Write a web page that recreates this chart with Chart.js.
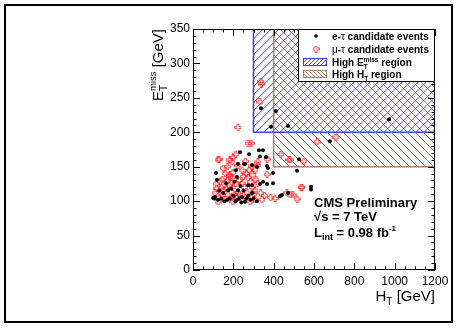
<!DOCTYPE html>
<html>
<head>
<meta charset="utf-8">
<script src="https://cdn.jsdelivr.net/npm/chart.js@4.4.1/dist/chart.umd.min.js"></script>
<style>
  body { margin: 0; background: #fff; }
  canvas { display: block; }
</style>
</head>
<body>
<canvas id="chart" width="457" height="329"></canvas>
<script>
// e-tau candidate events (HT, MET in GeV)
const eTauHT = [337, 411, 387, 471, 972, 679, 526, 516, 585, 585,
  347, 327, 233, 278, 332, 362, 223, 253, 372, 114, 119, 397, 347, 397, 293,
  213, 258, 293, 317, 164, 218, 273, 223, 174, 109, 124, 183, 218, 243, 293,
  317, 258, 367, 332, 367, 441, 471, 431,
  140, 155, 200, 230, 265, 275, 190, 150, 205, 235, 100, 105, 170, 250, 300, 285, 130, 210, 240];
const eTauMET = [235, 231, 208, 209, 219, 187, 161, 144, 121, 117,
  174, 174, 171, 168, 165, 164, 154, 154, 148, 141, 131, 141, 128, 126, 123,
  145, 154, 152, 150, 126, 135, 123, 116, 116, 106, 102, 104, 102, 106, 112,
  100, 99, 151, 125, 125, 109, 112, 107,
  104, 100, 108, 104, 104, 108, 118, 112, 128, 122, 105, 104, 102, 115, 104, 102, 115, 100, 98];

// mu-tau candidate events (HT, MET in GeV)
const muTauHT = [337, 340, 332, 615, 709, 481, 550, 436, 476, 540, 407, 466, 496, 516,
  223, 273, 288, 367, 129, 193, 198, 322, 292, 278, 243, 198, 183, 144, 367, 312,
  124, 183, 223, 307, 297, 183, 193, 273, 243, 134, 119, 149, 198, 293, 307,
  144, 174, 223, 268, 124, 159, 198, 243, 283, 307, 322, 322, 342, 481, 536,
  110, 115, 130, 165, 170, 210, 215, 230, 255, 260, 180, 205, 250, 140, 160,
  285, 300, 230, 190, 265, 150, 170, 335, 355, 385, 212, 260];
const muTauMET = [274, 270, 244, 186, 193, 160, 158, 168, 160, 120, 104, 112, 109, 103,
  207, 184, 184, 161, 161, 157, 163, 157, 151, 145, 145, 141, 135, 131, 139, 131,
  160, 160, 152, 145, 138, 138, 134, 134, 126, 128, 119, 116, 120, 120, 116,
  109, 109, 112, 112, 99, 102, 99, 102, 99, 102, 152, 126, 102, 109, 120,
  112, 125, 105, 118, 130, 125, 105, 130, 120, 105, 122, 110, 136, 120, 140,
  128, 110, 110, 105, 140, 148, 150, 112, 108, 105, 168, 158];

const xTicks = [0, 200, 400, 600, 800, 1000, 1200];
const yTicks = [0, 50, 100, 150, 200, 250, 300, 350];

// signal regions: lower-left corners (HT, MET)
const highMetRegion = [300, 200];
const highHtRegion = [400, 150];

const FONT = '"Liberation Sans", Arial, Helvetica, sans-serif';
const BLUE = '#4040ff';
const BROWN = '#a4826e';

function makeCross(color) {
  const c = document.createElement('canvas');
  c.width = 7; c.height = 7;
  const g = c.getContext('2d');
  g.strokeStyle = color;
  g.lineWidth = 1;
  g.beginPath();
  g.moveTo(2.5, 0.5); g.lineTo(4.5, 0.5); g.lineTo(4.5, 2.5); g.lineTo(6.5, 2.5);
  g.lineTo(6.5, 4.5); g.lineTo(4.5, 4.5); g.lineTo(4.5, 6.5); g.lineTo(2.5, 6.5);
  g.lineTo(2.5, 4.5); g.lineTo(0.5, 4.5); g.lineTo(0.5, 2.5); g.lineTo(2.5, 2.5);
  g.closePath();
  g.stroke();
  return c;
}
const crossImg = makeCross('rgba(255,30,30,0.8)');

function toPoints(xs, ys) {
  return xs.map((x, i) => ({ x: x, y: ys[i] }));
}

function hatch(ctx, x0, y0, x1, y1, dir, color, gap) {
  ctx.save();
  ctx.beginPath();
  ctx.rect(x0, y0, x1 - x0, y1 - y0);
  ctx.clip();
  ctx.strokeStyle = color;
  ctx.lineWidth = 1;
  ctx.beginPath();
  const h = y1 - y0;
  const start = Math.floor((x0 - h) / gap) * gap;
  for (let t = start; t < x1 + h; t += gap) {
    if (dir > 0) { ctx.moveTo(t, y1); ctx.lineTo(t + h, y0); }
    else { ctx.moveTo(t, y0); ctx.lineTo(t + h, y1); }
  }
  ctx.stroke();
  ctx.restore();
}

// draws text pieces: {t, size, bold, dy, stack}
function drawRich(ctx, parts, x, y) {
  let cx = x;
  let pending = 0;
  parts.forEach(p => {
    ctx.font = (p.bold ? 'bold ' : '') + p.size + 'px ' + FONT;
    const w = ctx.measureText(p.t).width;
    if (p.stack) {
      ctx.fillText(p.t, cx - pending, y + (p.dy || 0));
      const extra = w - pending;
      if (extra > 0) cx += extra;
      pending = 0;
    } else {
      ctx.fillText(p.t, cx, y + (p.dy || 0));
      cx += w;
      pending = p.dy ? w : 0;
    }
  });
  return cx - x;
}

const regionsPlugin = {
  id: 'regions',
  beforeDatasetsDraw(chart) {
    const { ctx, chartArea: a, scales: { x, y } } = chart;
    const bx = x.getPixelForValue(highMetRegion[0]);
    const by = y.getPixelForValue(highMetRegion[1]);
    const hx = x.getPixelForValue(highHtRegion[0]);
    const hy = y.getPixelForValue(highHtRegion[1]);
    hatch(ctx, hx, a.top, a.right, hy, -1, BROWN, 8);
    hatch(ctx, bx, a.top, a.right, by, 1, BLUE, 8);
    ctx.save();
    ctx.lineWidth = 1.5;
    ctx.strokeStyle = BROWN;
    ctx.beginPath();
    ctx.moveTo(hx, a.top); ctx.lineTo(hx, hy); ctx.lineTo(a.right, hy);
    ctx.stroke();
    ctx.strokeStyle = BLUE;
    ctx.beginPath();
    ctx.moveTo(bx, a.top); ctx.lineTo(bx, by); ctx.lineTo(a.right, by);
    ctx.stroke();
    ctx.restore();
  },
  afterDatasetsDraw(chart) {
    const { ctx, chartArea: a, scales: { x, y } } = chart;
    ctx.save();
    // frame and inward ticks
    ctx.strokeStyle = '#000';
    ctx.lineWidth = 1;
    ctx.strokeRect(a.left + 0.5, a.top + 0.5, a.right - a.left - 1, a.bottom - a.top - 1);
    ctx.beginPath();
    for (let v = 0; v <= 350; v += 10) {
      const p = Math.round(y.getPixelForValue(v)) + 0.5;
      const len = v % 50 === 0 ? 7 : 3.5;
      ctx.moveTo(a.left, p); ctx.lineTo(a.left + len, p);
      ctx.moveTo(a.right, p); ctx.lineTo(a.right - len, p);
    }
    for (let v = 0; v <= 1200; v += 50) {
      const p = Math.round(x.getPixelForValue(v)) + 0.5;
      const len = v % 200 === 0 ? 7 : 3.5;
      ctx.moveTo(p, a.bottom); ctx.lineTo(p, a.bottom - len);
      ctx.moveTo(p, a.top); ctx.lineTo(p, a.top + len);
    }
    ctx.stroke();

    // legend
    const lw = 137, lh = 53;
    const lx = a.right - lw, ly = a.top;
    ctx.fillStyle = '#fff';
    ctx.fillRect(lx, ly, lw, lh);
    ctx.strokeStyle = '#000';
    ctx.strokeRect(lx + 0.5, ly + 0.5, lw - 1, lh - 1);
    const rows = [ly + 7, ly + 20, ly + 33, ly + 45];
    const symX = lx + 18;
    const txtX = lx + 34;
    ctx.fillStyle = '#000';
    ctx.beginPath();
    ctx.arc(symX, rows[0], 1.8, 0, Math.PI * 2);
    ctx.fill();
    ctx.drawImage(crossImg, symX - 3.5, rows[1] - 3.5);
    hatch(ctx, lx + 5, rows[2] - 4, lx + 29, rows[2] + 4, 1, BLUE, 4);
    ctx.strokeStyle = BLUE;
    ctx.strokeRect(lx + 5.5, rows[2] - 3.5, 23, 7);
    hatch(ctx, lx + 5, rows[3] - 4, lx + 29, rows[3] + 4, -1, BROWN, 4);
    ctx.strokeStyle = BROWN;
    ctx.strokeRect(lx + 5.5, rows[3] - 3.5, 23, 7);

    ctx.fillStyle = '#000';
    ctx.textBaseline = 'alphabetic';
    ctx.textAlign = 'left';
    drawRich(ctx, [{ t: 'e-', size: 10, bold: true }, { t: 'τ', size: 10 },
      { t: ' candidate events', size: 10, bold: true }], txtX, rows[0] + 4);
    drawRich(ctx, [{ t: 'μ', size: 10 }, { t: '-', size: 10, bold: true }, { t: 'τ', size: 10 },
      { t: ' candidate events', size: 10, bold: true }], txtX, rows[1] + 4);
    drawRich(ctx, [{ t: 'High E', size: 10, bold: true },
      { t: 'miss', size: 6.5, bold: true, dy: -4 }, { t: 'T', size: 6.5, bold: true, dy: 3, stack: true },
      { t: ' region', size: 10, bold: true }], txtX, rows[2] + 4);
    drawRich(ctx, [{ t: 'High H', size: 10, bold: true },
      { t: 'T', size: 6.5, bold: true, dy: 3 },
      { t: ' region', size: 10, bold: true }], txtX, rows[3] + 4);

    // CMS labels
    const tx = x.getPixelForValue(600);
    drawRich(ctx, [{ t: 'CMS Preliminary', size: 13, bold: true }], tx, 207);
    drawRich(ctx, [{ t: '√s = 7 TeV', size: 13, bold: true }], tx, 221);
    drawRich(ctx, [{ t: 'L', size: 13, bold: true }, { t: 'int', size: 9, bold: true, dy: 3 },
      { t: ' = 0.98 fb', size: 13, bold: true }, { t: '-1', size: 8, bold: true, dy: -6 }], tx, 237);

    // axis titles
    ctx.fillStyle = '#000';
    const xt = [{ t: 'H', size: 15 }, { t: 'T', size: 10, dy: 4 }, { t: ' [GeV]', size: 15 }];
    ctx.save();
    ctx.globalAlpha = 0;
    const xw = drawRich(ctx, xt, 0, 0);
    ctx.restore();
    drawRich(ctx, xt, a.right - xw, 301);

    const yt = [{ t: 'E', size: 15 }, { t: 'miss', size: 9.5, dy: -7 },
      { t: 'T', size: 10, dy: 4, stack: true }, { t: ' [GeV]', size: 15 }];
    ctx.save();
    ctx.globalAlpha = 0;
    const yw = drawRich(ctx, yt, 0, 0);
    ctx.restore();
    ctx.save();
    ctx.translate(163, a.top);
    ctx.rotate(-Math.PI / 2);
    drawRich(ctx, yt, -yw, 0);
    ctx.restore();

    // outer pad border
    ctx.strokeStyle = '#000';
    ctx.lineWidth = 2;
    ctx.strokeRect(5, 5, 447, 317);
    ctx.restore();
  }
};

new Chart(document.getElementById('chart'), {
  type: 'scatter',
  data: {
    datasets: [
      {
        label: 'e-τ candidate events',
        data: toPoints(eTauHT, eTauMET),
        pointStyle: 'circle',
        pointRadius: 2,
        pointBackgroundColor: '#000',
        pointBorderWidth: 0
      },
      {
        label: 'μ-τ candidate events',
        data: toPoints(muTauHT, muTauMET),
        pointStyle: crossImg,
        pointRadius: 3.5
      }
    ]
  },
  options: {
    responsive: false,
    animation: false,
    layout: { padding: { top: 29, right: 22, left: 0, bottom: 0 } },
    plugins: { legend: { display: false }, tooltip: { enabled: false } },
    scales: {
      x: {
        type: 'linear',
        min: xTicks[0],
        max: xTicks[xTicks.length - 1],
        afterBuildTicks: s => { s.ticks = xTicks.map(v => ({ value: v })); },
        afterFit: s => { s.height = 59; },
        grid: { display: false, drawTicks: false },
        border: { display: false },
        ticks: { color: '#000', font: { family: FONT, size: 12 }, padding: 4, maxRotation: 0,
          autoSkip: false, callback: v => String(v) }
      },
      y: {
        type: 'linear',
        min: yTicks[0],
        max: yTicks[yTicks.length - 1],
        afterBuildTicks: s => { s.ticks = yTicks.map(v => ({ value: v })); },
        afterFit: s => { s.width = 193; },
        grid: { display: false, drawTicks: false },
        border: { display: false },
        ticks: { color: '#000', font: { family: FONT, size: 12 }, padding: 3, autoSkip: false,
          callback: v => String(v) }
      }
    }
  },
  plugins: [regionsPlugin]
});
</script>
</body>
</html>
